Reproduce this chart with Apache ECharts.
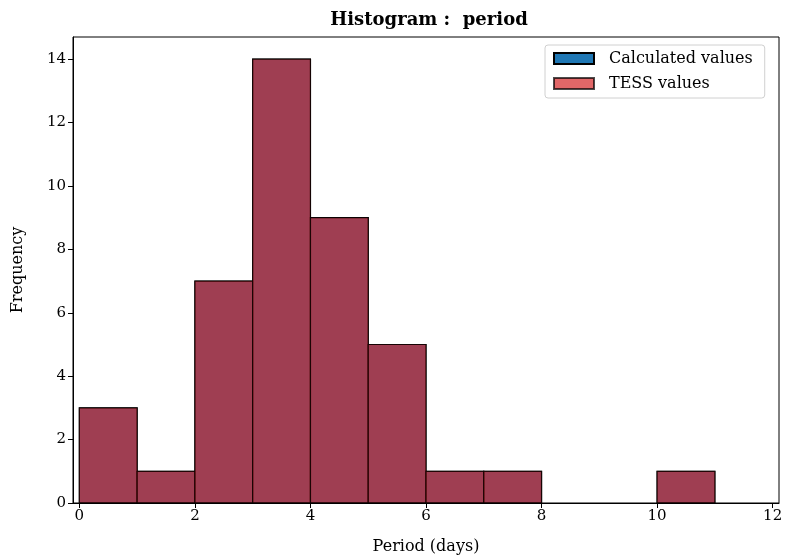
<!DOCTYPE html>
<html><head><meta charset="utf-8">
<script src="https://cdn.jsdelivr.net/npm/echarts@6/dist/echarts.min.js"></script>
<style>html,body{margin:0;padding:0;background:#fff}#c{width:786px;height:556px}</style>
</head><body><div id="c"></div>
<script>
const binStarts = [0, 1, 2, 3, 4, 5, 6, 7, 8, 9, 10];
const binWidth = 1;
const calcCounts = [3, 1, 7, 14, 9, 5, 1, 1, 0, 0, 1];
const tessCounts = [3, 1, 7, 14, 9, 5, 1, 1, 0, 0, 1];
const xTicks = [0, 2, 4, 6, 8, 10, 12];
const yTicks = [0, 2, 4, 6, 8, 10, 12, 14];

const FONT = '"DejaVu Serif", "Liberation Serif", serif';
const chart = echarts.init(document.getElementById('c'), null, {renderer: 'canvas'});

function makeData(counts) { return binStarts.map((s, i) => [s, s + binWidth, counts[i]]); }
function renderBar(params, api) {
  const h = api.value(2);
  if (!h) return null;
  const p0 = api.coord([api.value(0), 0]);
  const p1 = api.coord([api.value(1), h]);
  return {
    type: 'rect',
    shape: {x: p0[0], y: p1[1], width: p1[0] - p0[0], height: p0[1] - p1[1]},
    style: api.style()
  };
}

chart.setOption({
  animation: false,
  backgroundColor: '#fff',
  title: {
    text: 'Histogram :  period', left: 424, top: 6, textAlign: 'center',
    textStyle: {fontFamily: FONT, fontSize: 18, fontWeight: 'bold', color: '#000'}
  },
  legend: {
    orient: 'vertical', left: 545, top: 45, padding: [5, 12, 6, 8], itemGap: 8,
    itemWidth: 40, itemHeight: 11, icon: 'rect',
    borderColor: '#d0d0d0', borderWidth: 1, borderRadius: 3, backgroundColor: '#fff',
    textStyle: {fontFamily: FONT, fontSize: 16, color: '#000', lineHeight: 17, padding: [0, 0, 0, 10]},
    data: ['Calculated values', 'TESS values']
  },
  grid: {left: 73, right: 7, top: 37, bottom: 53, containLabel: false, outerBoundsMode: 'none', show: false},
  xAxis: {
    type: 'value', min: -0.11, max: 12.11,
    name: 'Period (days)', nameLocation: 'middle', nameGap: 36,
    nameTextStyle: {fontFamily: FONT, fontSize: 16, color: '#000'},
    axisLine: {show: true, onZero: false, lineStyle: {color: '#000', width: 1}},
    axisTick: {show: true, customValues: xTicks, length: 5, inside: false, lineStyle: {color: '#000'}},
    axisLabel: {customValues: xTicks, fontFamily: FONT, fontSize: 15, color: '#000', margin: 6},
    splitLine: {show: false}
  },
  yAxis: {
    type: 'value', min: 0, max: 14.7,
    name: 'Frequency', nameLocation: 'middle', nameGap: 47, nameRotate: 90,
    nameTextStyle: {fontFamily: FONT, fontSize: 16, color: '#000'},
    axisLine: {show: true, onZero: false, lineStyle: {color: '#000', width: 1}},
    axisTick: {show: true, customValues: yTicks, length: 5, inside: false, lineStyle: {color: '#000'}},
    axisLabel: {customValues: yTicks, fontFamily: FONT, fontSize: 15, color: '#000', margin: 7},
    splitLine: {show: false}
  },
  series: [
    {
      name: 'Calculated values', type: 'custom', renderItem: renderBar,
      data: makeData(calcCounts), encode: {x: [0, 1], y: 2},
      itemStyle: {color: '#1f77b4', borderColor: '#000', borderWidth: 1.2}
    },
    {
      name: 'TESS values', type: 'custom', renderItem: renderBar,
      data: makeData(tessCounts), encode: {x: [0, 1], y: 2},
      itemStyle: {color: 'rgba(214,39,40,0.7)', borderColor: 'rgba(0,0,0,0.7)', borderWidth: 1.2}
    }
  ],
  graphic: [
    {type: 'rect', shape: {x: 73, y: 37, width: 706, height: 466},
     style: {fill: 'none', stroke: '#000', lineWidth: 1}, z: 10, silent: true}
  ]
});
</script></body></html>
